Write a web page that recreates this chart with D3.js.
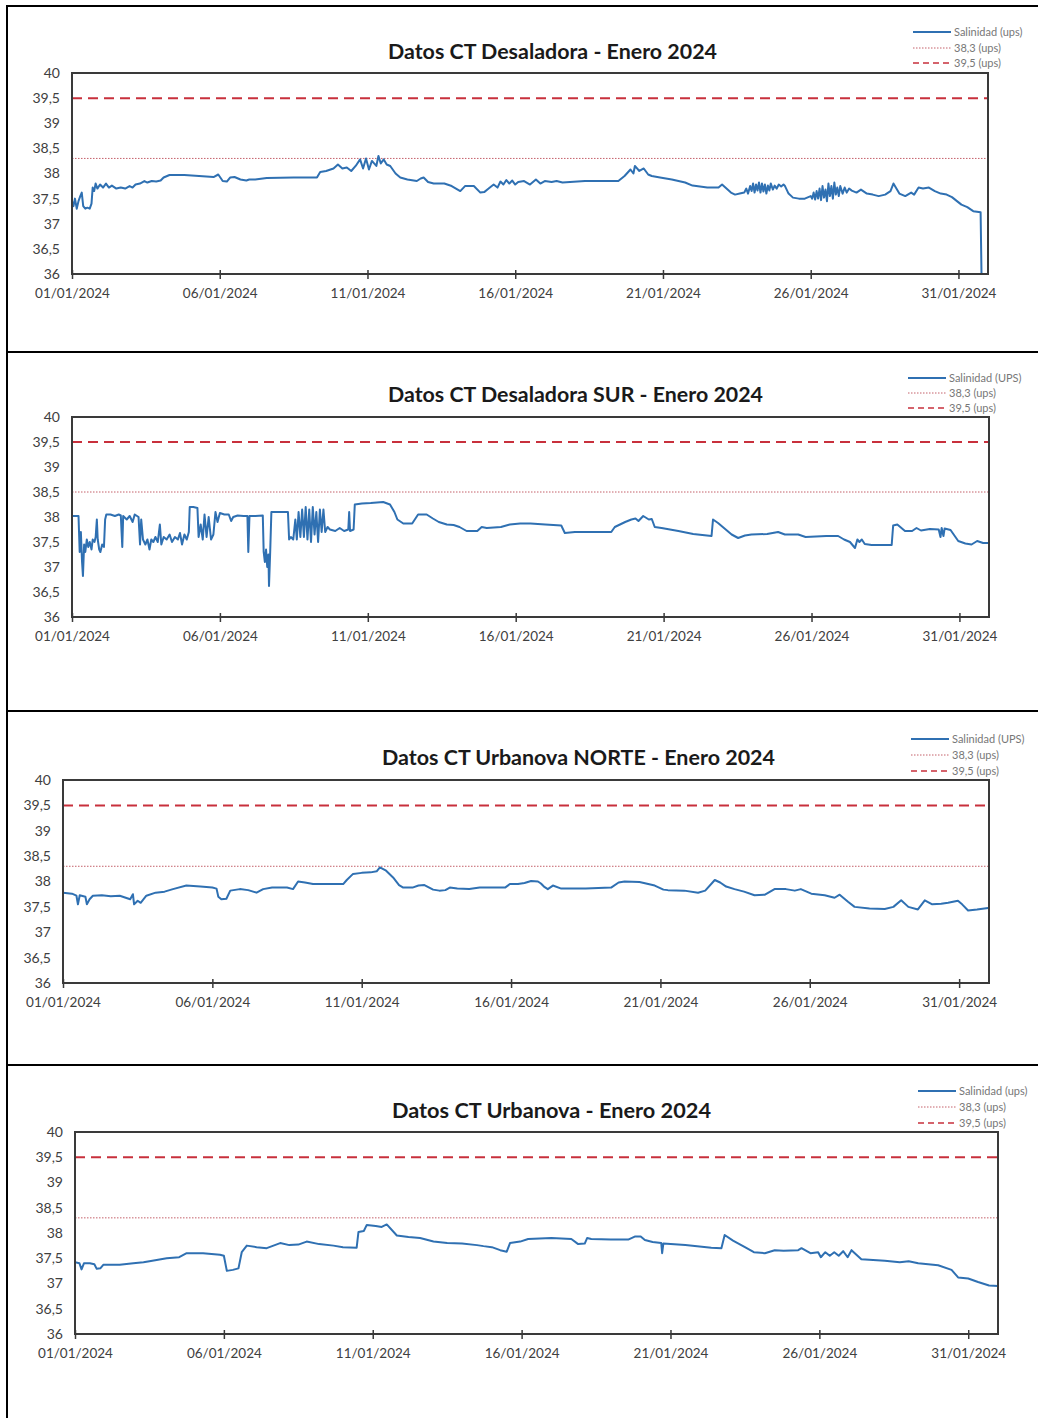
<!DOCTYPE html>
<html><head><meta charset="utf-8">
<script src="https://cdn.jsdelivr.net/npm/d3@7"></script>
<style>body{margin:0;background:#fff} svg{display:block}</style>
</head><body>
<svg id="c" width="1038" height="1418"></svg>
<script>
// ---------- DATA ----------
const yTicks = [36, 36.5, 37, 37.5, 38, 38.5, 39, 39.5, 40];
const xTickLabels = ["01/01/2024","06/01/2024","11/01/2024","16/01/2024","21/01/2024","26/01/2024","31/01/2024"];
const titles = [
  "Datos CT Desaladora - Enero 2024",
  "Datos CT Desaladora SUR - Enero 2024",
  "Datos CT Urbanova NORTE - Enero 2024",
  "Datos CT Urbanova - Enero 2024"
];
const salinityLegend = ["Salinidad (ups)", "Salinidad (UPS)", "Salinidad (UPS)", "Salinidad (ups)"];
const lowLegend = "38,3 (ups)";
const highLegend = "39,5 (ups)";
const lowThresholds = [38.3, 38.5, 38.3, 38.3];
const highThreshold = 39.5;

// [days since 01/01/2024 00:00, salinity]
const desaladora = [
[0.00,37.45],[0.05,37.35],[0.10,37.50],[0.16,37.30],[0.22,37.45],[0.28,37.55],[0.33,37.62],[0.38,37.35],
[0.45,37.30],[0.52,37.32],[0.60,37.30],[0.66,37.40],[0.70,37.72],[0.75,37.65],[0.80,37.80],[0.86,37.70],
[0.95,37.78],[1.05,37.72],[1.15,37.80],[1.25,37.72],[1.35,37.76],[1.50,37.70],[1.65,37.72],[1.80,37.70],
[1.95,37.75],[2.05,37.72],[2.15,37.78],[2.30,37.80],[2.45,37.85],[2.55,37.82],[2.70,37.85],[2.85,37.84],
[3.00,37.86],[3.10,37.92],[3.30,37.97],[3.80,37.97],[4.30,37.95],[4.79,37.93],[4.95,37.98],[5.02,37.92],
[5.10,37.85],[5.24,37.84],[5.35,37.92],[5.50,37.93],[5.70,37.88],[5.90,37.86],[6.00,37.88],[6.20,37.88],
[6.59,37.91],[7.50,37.92],[8.29,37.92],[8.40,38.03],[8.60,38.05],[8.85,38.10],[9.00,38.18],[9.15,38.10],
[9.30,38.12],[9.45,38.05],[9.60,38.15],[9.75,38.28],[9.85,38.10],[9.95,38.30],[10.05,38.08],[10.15,38.25],
[10.30,38.15],[10.37,38.35],[10.45,38.20],[10.55,38.28],[10.65,38.18],[10.77,38.15],[10.95,38.00],[11.11,37.92],
[11.35,37.88],[11.67,37.85],[11.80,37.90],[11.90,37.92],[12.05,37.83],[12.24,37.80],[12.60,37.80],[12.85,37.75],
[13.14,37.65],[13.30,37.75],[13.60,37.75],[13.82,37.62],[13.95,37.63],[14.10,37.70],[14.27,37.78],[14.40,37.72],
[14.50,37.84],[14.60,37.78],[14.70,37.87],[14.80,37.80],[14.90,37.86],[15.00,37.78],[15.10,37.83],[15.30,37.85],
[15.50,37.78],[15.70,37.88],[15.85,37.80],[16.00,37.85],[16.23,37.83],[16.40,37.85],[16.60,37.82],[17.36,37.85],
[18.49,37.85],[18.70,37.95],[18.90,38.08],[19.00,38.00],[19.05,38.15],[19.20,38.05],[19.35,38.10],[19.50,37.98],
[19.62,37.95],[19.90,37.92],[20.30,37.88],[20.75,37.82],[21.00,37.76],[21.50,37.72],[21.88,37.72],[22.00,37.78],
[22.15,37.70],[22.30,37.62],[22.44,37.58],[22.60,37.60],[22.75,37.62],[22.82,37.70],[22.88,37.60],[22.95,37.75],
[23.00,37.65],[23.05,37.80],[23.10,37.62],[23.15,37.78],[23.20,37.66],[23.25,37.82],[23.30,37.62],[23.35,37.80],
[23.40,37.64],[23.45,37.78],[23.50,37.60],[23.55,37.76],[23.60,37.66],[23.65,37.80],[23.72,37.68],[23.78,37.76],
[23.85,37.70],[23.92,37.78],[24.00,37.74],[24.08,37.78],[24.13,37.75],[24.25,37.60],[24.40,37.52],[24.60,37.50],
[24.80,37.50],[25.00,37.55],[25.05,37.50],[25.10,37.62],[25.15,37.48],[25.20,37.65],[25.25,37.50],[25.30,37.70],
[25.35,37.47],[25.40,37.75],[25.45,37.52],[25.50,37.68],[25.55,37.45],[25.60,37.80],[25.65,37.55],[25.70,37.75],
[25.75,37.50],[25.80,37.82],[25.85,37.58],[25.90,37.72],[25.95,37.55],[26.00,37.75],[26.08,37.60],[26.15,37.72],
[26.22,37.62],[26.30,37.70],[26.39,37.66],[26.55,37.62],[26.70,37.68],[26.90,37.60],[27.10,37.58],[27.30,37.55],
[27.52,37.58],[27.70,37.65],[27.80,37.80],[27.90,37.70],[28.00,37.60],[28.20,37.55],[28.40,37.62],[28.50,37.58],
[28.65,37.72],[28.80,37.70],[29.00,37.72],[29.20,37.65],[29.40,37.60],[29.60,37.58],[29.78,37.53],[29.95,37.45],
[30.10,37.38],[30.30,37.33],[30.50,37.25],[30.75,37.23],[30.78,36.00]
];

const desaladoraSur = [
[0.00,38.02],[0.22,38.02],[0.26,37.30],[0.30,37.70],[0.34,37.10],[0.37,36.82],[0.41,37.45],[0.45,37.30],
[0.50,37.55],[0.55,37.40],[0.60,37.50],[0.66,37.35],[0.70,37.55],[0.76,37.50],[0.80,37.60],[0.84,37.95],
[0.87,37.55],[0.92,37.35],[0.96,37.30],[1.02,37.45],[1.08,37.40],[1.12,37.95],[1.16,38.05],[1.30,38.05],
[1.45,38.02],[1.58,38.05],[1.65,38.03],[1.70,37.40],[1.73,38.02],[1.85,37.95],[1.95,38.02],[2.05,37.90],
[2.12,38.05],[2.25,38.00],[2.30,37.45],[2.34,37.95],[2.40,37.55],[2.48,37.45],[2.55,37.55],[2.62,37.35],
[2.68,37.55],[2.75,37.50],[2.82,37.60],[2.90,37.50],[2.97,37.85],[3.02,37.45],[3.10,37.60],[3.20,37.55],
[3.30,37.65],[3.38,37.50],[3.48,37.60],[3.58,37.55],[3.65,37.68],[3.72,37.45],[3.80,37.65],[3.88,37.55],
[3.95,37.70],[3.98,38.20],[4.10,38.20],[4.24,38.18],[4.28,37.60],[4.35,37.85],[4.42,37.55],[4.48,38.05],
[4.55,37.60],[4.62,38.00],[4.70,37.55],[4.78,37.65],[4.85,38.10],[4.92,37.90],[5.00,38.08],[5.15,38.05],
[5.30,38.05],[5.38,37.92],[5.45,38.00],[5.60,38.03],[5.80,38.02],[5.93,38.02],[5.96,37.30],[6.00,38.02],
[6.20,38.02],[6.45,38.03],[6.48,37.30],[6.52,37.10],[6.56,37.35],[6.60,37.00],[6.64,37.25],[6.66,36.62],
[6.70,37.30],[6.74,38.10],[7.00,38.10],[7.30,38.10],[7.34,37.55],[7.40,37.60],[7.48,37.55],[7.55,37.95],
[7.60,37.55],[7.66,38.10],[7.72,37.60],[7.78,38.15],[7.84,37.60],[7.90,38.20],[7.96,37.55],[8.02,38.15],
[8.08,37.50],[8.14,38.20],[8.20,37.65],[8.26,38.10],[8.32,37.50],[8.38,38.15],[8.44,37.70],[8.50,38.15],
[8.56,37.70],[8.64,37.80],[8.72,37.75],[8.90,37.72],[9.05,37.78],[9.20,37.72],[9.34,37.75],[9.37,38.10],
[9.40,37.72],[9.52,37.75],[9.56,38.25],[9.80,38.27],[10.10,38.28],[10.52,38.30],[10.75,38.25],[10.90,38.10],
[11.00,37.95],[11.20,37.87],[11.50,37.87],[11.70,38.05],[11.99,38.05],[12.20,37.97],[12.40,37.90],[12.67,37.85],
[12.90,37.84],[13.10,37.80],[13.34,37.72],[13.70,37.72],[13.85,37.80],[14.02,37.78],[14.50,37.80],[14.80,37.85],
[15.15,37.87],[15.50,37.87],[16.00,37.85],[16.54,37.83],[16.66,37.68],[17.00,37.70],[17.50,37.70],[18.23,37.70],
[18.35,37.80],[18.70,37.90],[18.91,37.95],[19.05,37.97],[19.15,37.92],[19.31,38.02],[19.50,37.95],[19.60,37.96],
[19.70,37.80],[19.93,37.78],[20.50,37.72],[21.00,37.66],[21.62,37.62],[21.67,37.95],[21.84,37.88],[22.10,37.75],
[22.30,37.65],[22.52,37.58],[22.75,37.63],[22.97,37.65],[23.50,37.66],[23.87,37.70],[24.10,37.65],[24.55,37.65],
[24.80,37.60],[25.50,37.62],[25.90,37.62],[26.10,37.55],[26.30,37.50],[26.47,37.38],[26.55,37.55],[26.62,37.50],
[26.70,37.55],[26.80,37.46],[27.03,37.44],[27.71,37.44],[27.76,37.83],[27.90,37.85],[28.16,37.72],[28.40,37.72],
[28.55,37.78],[28.70,37.73],[29.00,37.76],[29.30,37.75],[29.36,37.60],[29.40,37.78],[29.46,37.62],[29.50,37.77],
[29.70,37.74],[29.96,37.52],[30.20,37.47],[30.41,37.45],[30.60,37.52],[30.80,37.48],[30.98,37.48]
];

const urbanovaNorte = [
[0.00,37.78],[0.30,37.76],[0.45,37.72],[0.50,37.55],[0.56,37.73],[0.75,37.70],[0.80,37.55],[0.89,37.65],
[1.00,37.72],[1.30,37.73],[1.60,37.71],[1.90,37.72],[2.10,37.68],[2.25,37.65],[2.34,37.75],[2.38,37.55],
[2.50,37.62],[2.60,37.58],[2.79,37.72],[3.10,37.78],[3.40,37.80],[3.68,37.85],[4.13,37.92],[4.60,37.90],
[5.00,37.88],[5.14,37.86],[5.20,37.70],[5.30,37.65],[5.47,37.66],[5.60,37.82],[5.92,37.85],[6.20,37.83],
[6.48,37.78],[6.70,37.85],[7.00,37.88],[7.50,37.88],[7.70,37.85],[7.87,38.00],[8.10,37.98],[8.37,37.95],
[8.80,37.95],[9.38,37.95],[9.50,38.03],[9.71,38.15],[10.00,38.17],[10.30,38.18],[10.50,38.20],[10.61,38.28],
[10.80,38.22],[11.05,38.08],[11.25,37.93],[11.39,37.88],[11.70,37.88],[11.90,37.92],[12.10,37.93],[12.39,37.84],
[12.60,37.82],[12.80,37.83],[12.95,37.88],[13.20,37.86],[13.60,37.85],[13.95,37.88],[14.50,37.88],[14.80,37.88],
[14.96,37.95],[15.23,37.95],[15.45,37.97],[15.67,38.01],[15.90,38.00],[16.00,37.96],[16.10,37.90],[16.23,37.85],
[16.40,37.92],[16.68,37.86],[17.50,37.86],[18.35,37.88],[18.60,37.98],[18.80,38.00],[19.30,37.99],[19.81,37.92],
[20.10,37.84],[20.25,37.83],[20.80,37.82],[21.26,37.78],[21.50,37.82],[21.82,38.03],[22.00,37.98],[22.20,37.90],
[22.48,37.85],[22.80,37.80],[23.15,37.73],[23.50,37.74],[23.82,37.85],[24.20,37.85],[24.50,37.82],[24.70,37.85],
[25.05,37.76],[25.50,37.73],[25.83,37.68],[26.00,37.74],[26.28,37.60],[26.50,37.50],[27.00,37.47],[27.51,37.46],
[27.80,37.50],[28.06,37.63],[28.30,37.50],[28.62,37.45],[28.85,37.63],[29.10,37.55],[29.40,37.56],[29.63,37.58],
[29.96,37.62],[30.10,37.55],[30.30,37.43],[30.60,37.45],[30.97,37.48]
];

const urbanova = [
[0.00,37.42],[0.15,37.40],[0.22,37.28],[0.30,37.40],[0.50,37.40],[0.65,37.38],[0.73,37.29],[0.85,37.30],
[0.95,37.37],[1.50,37.37],[1.96,37.40],[2.30,37.42],[2.50,37.44],[3.08,37.50],[3.50,37.52],[3.75,37.60],
[4.30,37.60],[4.87,37.57],[5.00,37.55],[5.10,37.25],[5.30,37.27],[5.49,37.30],[5.60,37.62],[5.77,37.75],
[6.10,37.72],[6.44,37.70],[6.89,37.80],[7.20,37.76],[7.50,37.77],[7.78,37.83],[8.20,37.78],[8.68,37.75],
[9.00,37.72],[9.46,37.71],[9.52,38.02],[9.70,38.04],[9.80,38.16],[10.10,38.14],[10.30,38.12],[10.47,38.17],
[10.81,37.95],[11.20,37.92],[11.59,37.90],[12.04,37.83],[12.50,37.80],[13.00,37.79],[13.50,37.76],[13.72,37.74],
[14.00,37.72],[14.28,37.66],[14.50,37.63],[14.61,37.80],[14.95,37.83],[15.22,37.88],[16.00,37.90],[16.67,37.88],
[16.90,37.78],[17.12,37.79],[17.20,37.90],[17.34,37.88],[18.00,37.87],[18.58,37.87],[18.80,37.93],[19.00,37.93],
[19.14,37.86],[19.40,37.82],[19.69,37.80],[19.72,37.60],[19.76,37.79],[20.50,37.76],[21.37,37.71],[21.71,37.70],
[21.82,37.96],[22.10,37.85],[22.50,37.72],[22.80,37.62],[23.17,37.60],[23.50,37.66],[23.80,37.65],[24.29,37.66],
[24.40,37.70],[24.70,37.60],[24.96,37.62],[25.05,37.52],[25.20,37.62],[25.35,37.55],[25.50,37.62],[25.65,37.55],
[25.80,37.64],[25.95,37.52],[26.08,37.66],[26.41,37.48],[27.20,37.45],[27.70,37.42],[28.00,37.44],[28.32,37.40],
[28.99,37.36],[29.44,37.27],[29.66,37.12],[30.00,37.10],[30.33,37.03],[30.70,36.96],[31.00,36.95]
];

const seriesList = [desaladora, desaladoraSur, urbanovaNorte, urbanova];

// ---------- LAYOUT ----------
const layout = [
  {L:72, T:73,  R:988, B:274,  titleX:388, titleY:59,   titleW:329, legX:913, legY:[32,48,63]},
  {L:72, T:417, R:989, B:617,  titleX:388, titleY:402,  titleW:375, legX:908, legY:[378,393,408]},
  {L:63, T:780, R:989, B:983,  titleX:382, titleY:765,  titleW:393, legX:911, legY:[739,755,771]},
  {L:75, T:1132,R:998, B:1334, titleX:392, titleY:1118, titleW:319, legX:918, legY:[1091,1107,1123]}
];

const svg = d3.select("#c");
const font = "Lato, 'Open Sans', sans-serif";
const t0 = new Date(2024, 0, 1);
const toDate = d => new Date(t0.getTime() + d * 86400000);
const parseTick = d3.timeParse("%d/%m/%Y");
const fmtTick = d3.timeFormat("%d/%m/%Y");
const lineColor = "#2f70b2";
const redDash = "#c8303c";
const redDot = "#c4606a";

// table frame
const frame = svg.append("g").attr("stroke", "#000").attr("stroke-width", 2);
frame.append("line").attr("x1", 7).attr("x2", 1038).attr("y1", 6).attr("y2", 6);
frame.append("line").attr("x1", 7).attr("x2", 7).attr("y1", 5).attr("y2", 1418);
[352, 711, 1065].forEach(yy => frame.append("line").attr("x1", 7).attr("x2", 1038).attr("y1", yy).attr("y2", yy));

layout.forEach((p, i) => {
  const g = svg.append("g");
  const x = d3.scaleTime().domain([t0, new Date(2024, 1, 1)]).range([p.L, p.R]);
  const y = d3.scaleLinear().domain([36, 40]).range([p.B, p.T]);

  // thresholds
  g.append("line").attr("x1", p.L).attr("x2", p.R).attr("y1", y(highThreshold)).attr("y2", y(highThreshold))
    .attr("stroke", redDash).attr("stroke-width", 2).attr("stroke-dasharray", "10,6");
  g.append("line").attr("x1", p.L).attr("x2", p.R).attr("y1", y(lowThresholds[i])).attr("y2", y(lowThresholds[i]))
    .attr("stroke", redDot).attr("stroke-width", 1).attr("stroke-dasharray", "1.5,1.5");

  // clip
  const cid = "clip" + i;
  svg.append("clipPath").attr("id", cid).append("rect")
    .attr("x", p.L).attr("y", p.T).attr("width", p.R - p.L).attr("height", p.B - p.T);

  const line = d3.line().x(d => x(toDate(d[0]))).y(d => y(d[1]));
  g.append("path").datum(seriesList[i]).attr("d", line).attr("fill", "none")
    .attr("stroke", lineColor).attr("stroke-width", 2).attr("stroke-linejoin", "round")
    .attr("clip-path", `url(#${cid})`);

  // plot border
  g.append("rect").attr("x", p.L).attr("y", p.T).attr("width", p.R - p.L).attr("height", p.B - p.T)
    .attr("fill", "none").attr("stroke", "#3a3a3a").attr("stroke-width", 2);

  // y axis
  const ya = g.append("g").attr("transform", `translate(${p.L},0)`)
    .call(d3.axisLeft(y).tickValues(yTicks).tickSize(0).tickPadding(12)
      .tickFormat(v => String(v).replace(".", ",")));
  ya.select(".domain").remove();
  ya.selectAll("text").attr("font-family", font).attr("font-size", 14).attr("fill", "#404040");

  // x axis
  const tickDates = xTickLabels.map(parseTick);
  const xa = g.append("g").attr("transform", `translate(0,${p.B})`)
    .call(d3.axisBottom(x).tickValues(tickDates).tickFormat(fmtTick).tickSizeInner(5).tickSizeOuter(0).tickPadding(9));
  xa.select(".domain").remove();
  xa.selectAll(".tick line").attr("stroke", "#3a3a3a").attr("stroke-width", 1.5).attr("y1", -4);
  xa.selectAll("text").attr("font-family", font).attr("font-size", 13.5).attr("fill", "#404040");

  // title
  g.append("text").attr("x", p.titleX).attr("y", p.titleY).text(titles[i])
    .attr("font-family", font).attr("font-weight", "bold").attr("font-size", 20).attr("fill", "#1a1a1a")
    .attr("textLength", p.titleW).attr("lengthAdjust", "spacingAndGlyphs");

  // legend
  const lg = g.append("g");
  const legItems = [
    {label: salinityLegend[i], stroke: lineColor, w: 1.8, dash: null},
    {label: lowLegend, stroke: redDot, w: 1, dash: "1.5,1.5"},
    {label: highLegend, stroke: redDash, w: 1.5, dash: "6,4"}
  ];
  legItems.forEach((it, k) => {
    lg.append("line").attr("x1", p.legX).attr("x2", p.legX + 38).attr("y1", p.legY[k]).attr("y2", p.legY[k])
      .attr("stroke", it.stroke).attr("stroke-width", it.w).attr("stroke-dasharray", it.dash);
    lg.append("text").attr("x", p.legX + 41).attr("y", p.legY[k]).attr("dy", "0.35em").text(it.label)
      .attr("font-family", font).attr("font-size", 11).attr("fill", "#777");
  });
});
</script>
</body></html>
